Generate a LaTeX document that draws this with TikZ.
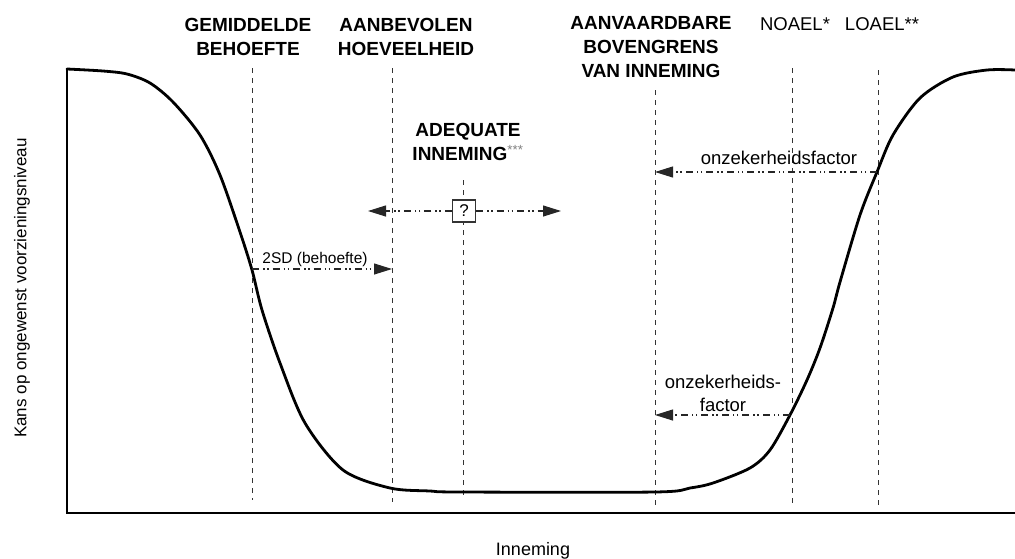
\documentclass[tikz,border=0pt]{standalone}
\usepackage{fontspec}
\setmainfont{Liberation Sans}
\usetikzlibrary{arrows.meta}
\definecolor{guidegray}{HTML}{333333}
\tikzset{
    headlabel/.style={font=\fontsize{19}{24}\selectfont\bfseries, align=center,
        anchor=north, inner sep=0pt},
    plainlabel/.style={font=\fontsize{18.5}{23}\selectfont, inner sep=0pt},
    guideline/.style={draw=guidegray, line width=1pt, dash pattern=on 5pt off 5pt},
    flowarrow/.style={draw=black!85, line width=1.1pt,
        dash pattern=on 7pt off 4pt on 1.5pt off 2.5pt on 1.5pt off 4pt,
        -{Triangle[length=18pt,width=11pt]}},
    riskcurve/.style={line width=2.8pt, line join=round, line cap=round},
    axisline/.style={line width=1.2pt}
}

\begin{document}
\begin{tikzpicture}[x=1pt, y=-1pt]
\useasboundingbox (0,0) rectangle (1015,558);

% axes
\coordinate (origin) at (67,513);
\coordinate (ytop) at (67,68);
\coordinate (xend) at (1015,513);
\draw[axisline] (ytop) -- (origin) -- (xend);
\node[plainlabel, font=\fontsize{17}{20}\selectfont, rotate=90] (ylabel) at (22,288) {Kans op ongewenst voorzieningsniveau};
\node[plainlabel, font=\fontsize{18}{22}\selectfont, anchor=base] (xlabel) at (533,555) {Inneming};

% guide lines
\coordinate (gb-top) at (252,68);   \coordinate (gb-bot) at (252,500);
\coordinate (ah-top) at (392,68);   \coordinate (ah-bot) at (392,502);
\coordinate (ai-top) at (463,180);  \coordinate (ai-bot) at (463,497);
\coordinate (ub-top) at (655,90);   \coordinate (ub-bot) at (655,508);
\coordinate (no-top) at (792,68);   \coordinate (no-bot) at (792,506);
\coordinate (lo-top) at (878,70);   \coordinate (lo-bot) at (878,506);
\draw[guideline] (gb-top) -- (gb-bot);
\draw[guideline] (ah-top) -- (ah-bot);
\draw[guideline] (ai-top) -- (ai-bot);
\draw[guideline] (ub-top) -- (ub-bot);
\draw[guideline] (no-top) -- (no-bot);
\draw[guideline] (lo-top) -- (lo-bot);

% labels on top
\node[headlabel] (behoefte) at (248,18) {GEMIDDELDE\\BEHOEFTE};
\node[headlabel] (aanbevolen) at (406,18) {AANBEVOLEN\\HOEVEELHEID};
\node[headlabel] (bovengrens) at (651,16.5) {AANVAARDBARE\\BOVENGRENS\\VAN INNEMING};
\node[plainlabel, anchor=base] (noael) at (795,30) {NOAEL*};
\node[plainlabel, anchor=base] (loael) at (882,30) {LOAEL**};
\node[headlabel] (adequaat) at (468,123.5) {ADEQUATE\\INNEMING\textcolor{gray}{\textsuperscript{\mdseries***}}};

% curve
\draw[riskcurve] plot[smooth, tension=0.5] coordinates {
    (67,69) (103,71) (127,74) (150,83) (173,102) (200,135) (220,175)
    (240,232) (252,270) (262,310) (280,363) (305,423) (343,470) (390,488)
    (430,491) (460,492) (655,492) (690,488) (713,483) (750,468) (770,450)
    (790,415) (807,380) (820,348) (833,308) (840,282) (860,215) (877,172)
    (893,135) (920,98) (953,77) (987,70) (1015,70)};

% arrows
\coordinate (sd-start) at (252,269);
\coordinate (sd-end) at (392,269);
\draw[flowarrow] (sd-start) -- (sd-end);
\node[plainlabel, font=\fontsize{15.5}{18}\selectfont, anchor=base] (sdlabel) at (315,263) {2SD (behoefte)};

\node[draw=guidegray, line width=1.2pt, fill=white, minimum width=23pt, minimum height=22pt,
    inner sep=0pt, font=\fontsize{17}{20}\selectfont] (unknown) at (464,211) {?};
\coordinate (adq-left) at (368,211);
\coordinate (adq-right) at (561,211);
\draw[flowarrow] (unknown.west) -- (adq-left);
\draw[flowarrow] (unknown.east) -- (adq-right);

\coordinate (uf-start) at (877,172);
\coordinate (uf-end) at (655,172);
\draw[flowarrow] (uf-start) -- (uf-end);
\node[plainlabel, anchor=base] (uflabel) at (779,164) {onzekerheidsfactor};

\coordinate (uf2-start) at (790,415);
\coordinate (uf2-end) at (655,415);
\draw[flowarrow] (uf2-start) -- (uf2-end);
\node[plainlabel, align=center, anchor=north] (uf2label) at (723,374.5) {onzekerheids-\\factor};
\end{tikzpicture}
\end{document}
